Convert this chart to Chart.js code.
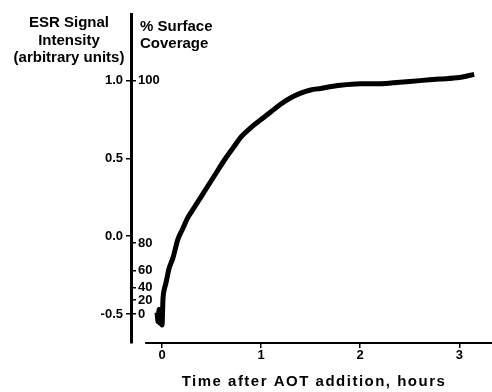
<!DOCTYPE html>
<html>
<head>
<meta charset="utf-8">
<script src="https://cdn.jsdelivr.net/npm/chart.js@4.4.1/dist/chart.umd.min.js"></script>
<style>
  html, body { margin: 0; padding: 0; background: #fff; }
</style>
</head>
<body>
<canvas id="chart" width="492" height="392"></canvas>
<script>
// ESR trace: time after AOT addition (hours) vs signal
const timeHours = [-0.05, -0.04, -0.03, -0.02, -0.01, 0.0, 0.01, 0.02, 0.04, 0.07,
  0.11, 0.16, 0.21, 0.26, 0.3, 0.35, 0.45, 0.54, 0.63, 0.72,
  0.8, 0.9, 1.0, 1.1, 1.2, 1.3, 1.4, 1.5, 1.6, 1.8,
  2.0, 2.2, 2.4, 2.6, 2.8, 3.0, 3.15];
const esrSignal = [-0.49, -0.55, -0.47, -0.56, -0.5, -0.57, -0.4, -0.35, -0.3, -0.21,
  -0.14, -0.02, 0.05, 0.12, 0.16, 0.21, 0.31, 0.4, 0.49, 0.57,
  0.64, 0.7, 0.75, 0.8, 0.85, 0.89, 0.92, 0.94, 0.95, 0.97,
  0.98, 0.98, 0.99, 1.0, 1.01, 1.02, 1.04];

const esrTicks = [-0.5, 0, 0.5, 1.0];
const timeTicks = [0, 1, 2, 3];
// % surface coverage labels and where they sit on the ESR scale
const coverageLabels = ["100", "80", "60", "40", "20", "0"];
const coverageAtEsr = [1.0, -0.045, -0.22, -0.33, -0.41, -0.5];

const FONT = "'Liberation Sans', Arial, sans-serif";
const xLineStart = -0.17; // x axis line starts a bit right of the y axis

const extras = {
  id: "extras",
  afterDraw(chart) {
    const ctx = chart.ctx;
    const xs = chart.scales.x;
    ctx.save();
    // x axis line
    ctx.strokeStyle = "#000";
    ctx.lineWidth = 2;
    ctx.beginPath();
    ctx.moveTo(xs.getPixelForValue(xLineStart), xs.top);
    ctx.lineTo(chart.chartArea.right, xs.top);
    ctx.stroke();

    ctx.fillStyle = "#000";
    ctx.textBaseline = "alphabetic";
    ctx.font = "bold 15px " + FONT;
    ctx.textAlign = "center";
    ["ESR Signal", "Intensity", "(arbitrary units)"].forEach((t, i) => {
      ctx.fillText(t, 69, 27 + i * 17.5);
    });
    ctx.textAlign = "left";
    ["% Surface", "Coverage"].forEach((t, i) => {
      ctx.fillText(t, 140, 31 + i * 17);
    });
    ctx.textAlign = "center";
    ctx.letterSpacing = "1.5px";
    ctx.fillText("Time after AOT addition, hours", 314, 386);
    ctx.restore();
  }
};

new Chart(document.getElementById("chart"), {
  type: "line",
  data: {
    datasets: [{
      data: timeHours.map((t, i) => ({ x: t, y: esrSignal[i] })),
      borderColor: "#000",
      borderWidth: 5,
      pointRadius: 0,
      cubicInterpolationMode: "monotone",
      fill: false
    }]
  },
  options: {
    responsive: false,
    animation: false,
    devicePixelRatio: 1,
    layout: { padding: { top: 14, left: 0, right: 0, bottom: 0 } },
    plugins: { legend: { display: false }, tooltip: { enabled: false } },
    scales: {
      x: {
        type: "linear",
        min: -0.313,
        max: 3.33,
        afterFit: s => { s.height = 49; },
        afterBuildTicks: s => { s.ticks = timeTicks.map(v => ({ value: v })); },
        border: { display: false },
        grid: { drawOnChartArea: false, color: "#000", lineWidth: 1.5, tickLength: 5 },
        ticks: {
          color: "#000",
          padding: 0,
          font: { family: FONT, size: 13, weight: "bold" },
          callback: v => String(v)
        }
      },
      y: {
        position: "left",
        weight: 1,
        min: -0.686,
        max: 1.423,
        afterFit: s => { s.width = 131; },
        afterBuildTicks: s => { s.ticks = esrTicks.map(v => ({ value: v })); },
        border: { display: true, color: "#000", width: 3 },
        grid: { drawOnChartArea: false, color: "#000", lineWidth: 1.5, tickLength: 5 },
        ticks: {
          color: "#000",
          padding: 3,
          font: { family: FONT, size: 13, weight: "bold" },
          callback: v => v.toFixed(1)
        }
      },
      y2: {
        position: "left",
        weight: 0,
        min: -0.686,
        max: 1.423,
        afterFit: s => { s.width = 0; },
        afterBuildTicks: s => { s.ticks = coverageAtEsr.map(v => ({ value: v })); },
        border: { display: false },
        grid: { drawOnChartArea: false, color: "#000", lineWidth: 1.5, tickLength: -5 },
        ticks: {
          mirror: true,
          autoSkip: false,
          color: "#000",
          padding: 7,
          font: { family: FONT, size: 13, weight: "bold" },
          callback: (v, i) => coverageLabels[i]
        }
      }
    }
  },
  plugins: [extras]
});
</script>
</body>
</html>
